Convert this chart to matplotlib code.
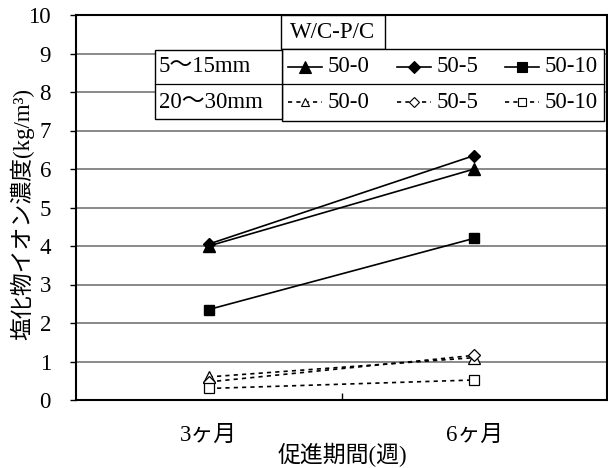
import matplotlib
matplotlib.use("Agg")
import matplotlib.pyplot as plt
from matplotlib.lines import Line2D
from matplotlib.patches import Rectangle

plt.rcParams['font.family'] = ['Liberation Serif', 'Noto Sans CJK JP', 'DejaVu Sans']

# Data
periods = ["3ヶ月", "6ヶ月"]
series_names = ["50-0", "50-5", "50-10"]
shallow_label = "5〜15mm"
deep_label = "20〜30mm"
legend_title = "W/C-P/C"
shallow_0 = [4.0, 6.0]
shallow_5 = [4.05, 6.35]
shallow_10 = [2.35, 4.2]
deep_0 = [0.6, 1.1]
deep_5 = [0.47, 1.16]
deep_10 = [0.3, 0.52]
y_ticks = list(range(0, 11))

FS = 16.5
W, H = 608, 468
fig = plt.figure(figsize=(W / 100, H / 100), dpi=100)
ax = fig.add_axes([76 / W, (H - 400) / H, (607 - 76) / W, (400 - 15) / H])

markers = ["^", "D", "s"]
msizes = [8, 6.5, 7.5]
xs = [0.5, 1.5]
shallow = [shallow_0, shallow_5, shallow_10]
deep = [deep_0, deep_5, deep_10]
dash = (0, (2.5, 2.5))

for vals, m, ms in zip(shallow, markers, msizes):
    ax.plot(xs, vals, color="black", lw=1.2, marker=m, ms=ms,
            mfc="black", mec="black", zorder=3)
for vals, m, ms in zip(deep, markers, msizes):
    ax.plot(xs, vals, color="black", lw=1.2, ls=dash, marker=m, ms=ms,
            mfc="white", mec="black", mew=0.9, zorder=3)

ax.set_xlim(0, 2)
ax.set_ylim(0, 10)
ax.set_yticks(y_ticks)
ax.set_xticks(xs)
ax.set_xticklabels(periods, fontsize=FS)
ax.set_xticks([1], minor=True)
ax.tick_params(axis="x", which="major", length=0, pad=18)
ax.tick_params(axis="x", which="minor", direction="in", length=5, width=1)
ax.tick_params(axis="y", which="major", direction="out", length=4, width=1,
               labelsize=FS, pad=14)
ax.yaxis.grid(True, color="#808080", lw=1.3)
ax.set_axisbelow(True)
for s in ax.spines.values():
    s.set_linewidth(1.5)

fig.text(22 / W, 1 - 214 / H, "塩化物イオン濃度(kg/m³)", rotation=90,
         ha="center", va="center", fontsize=FS)
fig.text(342 / W, 1 - 455 / H, "促進期間(週)", ha="center", va="center", fontsize=FS)


def fx(px):
    return px / W


def fy(py):
    return 1 - py / H


def box(x0, y0, x1, y1):
    fig.add_artist(Rectangle((fx(x0), fy(y1)), fx(x1) - fx(x0), fy(y0) - fy(y1),
                             transform=fig.transFigure, facecolor="white",
                             edgecolor="black", lw=1.0, zorder=5))


# Legend table
box(281, 15, 385, 49)
fig.text(fx(333), fy(32), legend_title, ha="center", va="center", fontsize=FS, zorder=6)
box(282, 49, 604, 121)
box(155, 50, 282, 119)
fig.add_artist(Line2D([fx(155), fx(604)], [fy(84), fy(84)], transform=fig.transFigure,
                      color="black", lw=0.9, zorder=6))
fig.text(fx(159), fy(67), shallow_label, ha="left", va="center", fontsize=FS, zorder=6)
fig.text(fx(159), fy(102), deep_label, ha="left", va="center", fontsize=FS, zorder=6)

handle_x = [288, 397, 505]
for i, (name, m, ms) in enumerate(zip(series_names, markers, msizes)):
    hx0 = handle_x[i]
    hx1 = hx0 + 34
    for row_y, filled, ls in [(67, True, "-"), (102, False, dash)]:
        fig.add_artist(Line2D([fx(hx0), fx(hx1)], [fy(row_y), fy(row_y)],
                              transform=fig.transFigure, color="black", lw=1.2,
                              ls=ls, zorder=6))
        fig.add_artist(Line2D([fx((hx0 + hx1) / 2)], [fy(row_y)],
                              transform=fig.transFigure, marker=m,
                              ms=ms if filled else ms * 0.8,
                              mfc="black" if filled else "white", mec="black",
                              mew=0.8, ls="none", zorder=7))
        fig.text(fx(hx1 + 6), fy(row_y), name, ha="left", va="center",
                 fontsize=FS, zorder=7)

fig.savefig("out.png", dpi=100)
